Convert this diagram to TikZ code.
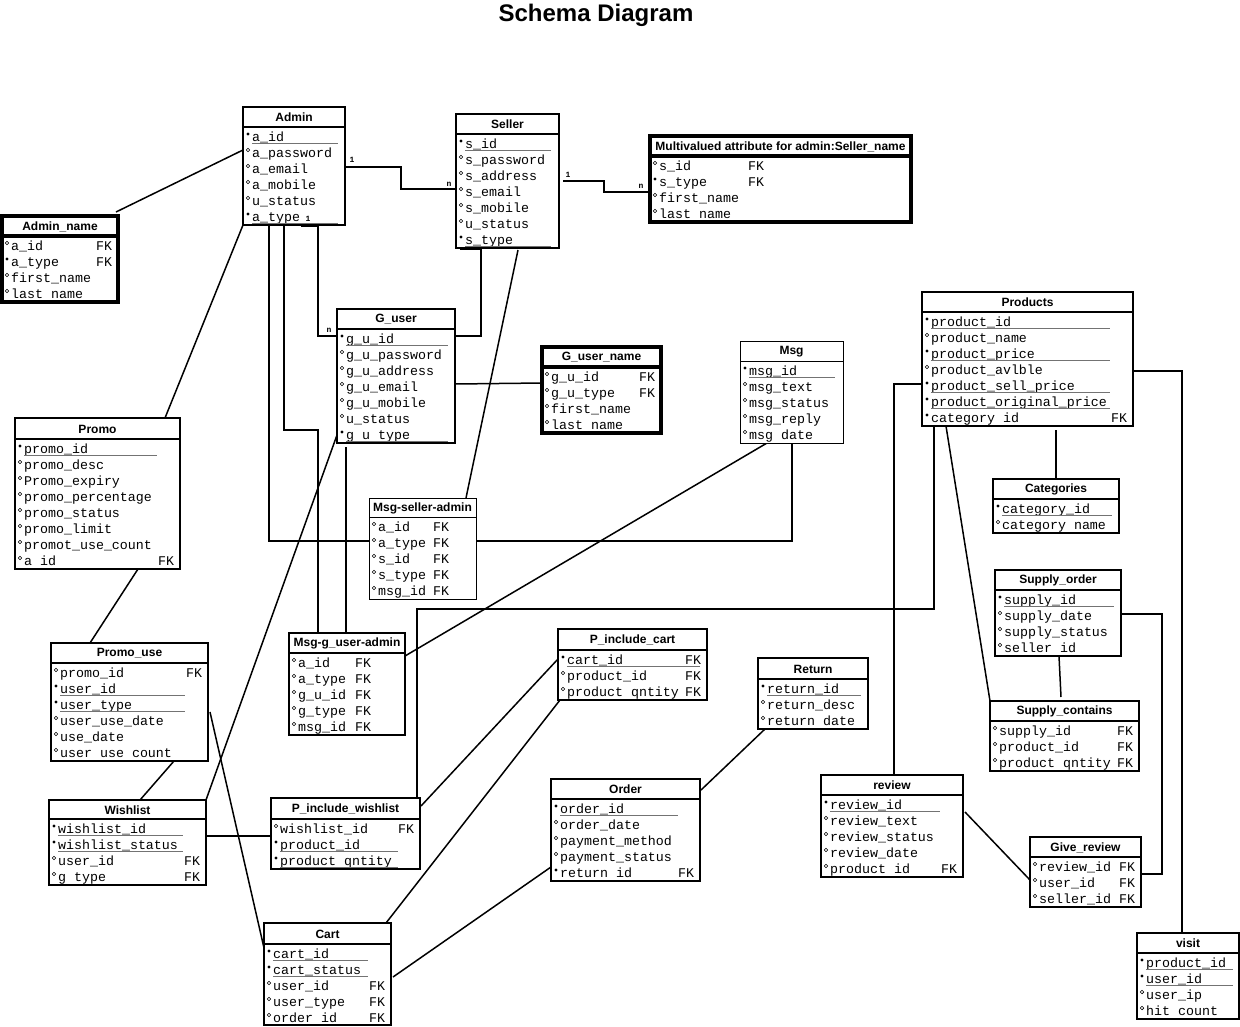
\documentclass[tikz,border=0pt]{standalone}
\usepackage{fontspec}
\setmainfont{Liberation Sans}
\newfontfamily\monof{Liberation Mono}
\usetikzlibrary{calc}
\pgfdeclarelayer{bg}
\pgfsetlayers{bg,main}
\tikzset{
  normal/.style={line width=1.7pt},
  thick/.style={line width=3.6pt},
  thin/.style={line width=0.9pt},
  ebox/.style={draw,fill=white,inner sep=0pt,outer sep=0pt,rectangle},
  etitle/.style={font=\bfseries\fontsize{12}{12}\selectfont,inner sep=0pt},
  rtext/.style={anchor=base west,inner sep=0pt,font=\monof\fontsize{13.3}{16}\selectfont},
  uline/.style={draw=black!55,line width=1pt},
  conn/.style={line width=1.5pt},
  lab/.style={font=\monof\bfseries\fontsize{8}{8}\selectfont,inner sep=0pt}
}
\newcommand\ent[8]{%
  \node[ebox,#8,minimum width={#4-#2},minimum height={#5-#3},anchor=north west] (#1) at (#2,#3) {};
  \draw[#8] (#2,{#3+#6}) -- (#4,{#3+#6});
  \node[etitle] (#1t) at ({(#2+#4)/2},{#3+#6/2+0.5}) {#7};
  \def\eN{#1}\def\eL{#2}\pgfmathsetmacro\eY{#3+#6+10}}
\newcommand\setfu[2]{\def\eF{#1}\def\eU{#2}}
\newcommand\rowat[1]{\pgfmathsetmacro\ry{\eY+16*(#1-1)}}
\newcommand\rk[2]{\rowat{#1}%
  \fill ({\eL+5},{\ry-3}) circle (1.7);
  \node[rtext] (\eN r#1) at ({\eL+9},{\ry+4}) {#2};
  \draw[uline] ({\eL+9},{\ry+6}) -- (\eU,{\ry+6});}
\newcommand\rkp[2]{\rowat{#1}%
  \fill ({\eL+5},{\ry-3}) circle (1.7);
  \node[rtext] (\eN r#1) at ({\eL+9},{\ry+4}) {#2};}
\newcommand\ro[2]{\rowat{#1}%
  \draw[line width=0.6pt] ({\eL+5},{\ry-3}) circle (1.8);
  \node[rtext] (\eN r#1) at ({\eL+9},{\ry+4}) {#2};}
\newcommand\fk[1]{\rowat{#1}%
  \node[rtext] (\eN f#1) at (\eF,{\ry+4}) {FK};}
\begin{document}
\begin{tikzpicture}[x=1pt,y=-1pt]
\useasboundingbox (0,0) rectangle (1240,1026);
\node[font=\bfseries\fontsize{24}{24}\selectfont,inner sep=0pt] (title) at (596,15) {Schema Diagram};

% ---------------- entities ----------------
\ent{admin}{243}{107}{345}{225}{20}{Admin}{normal}\setfu{0}{338}
\rk{1}{a\_id}\ro{2}{a\_password}\ro{3}{a\_email}\ro{4}{a\_mobile}\ro{5}{u\_status}\rk{6}{a\_type}

\ent{adminname}{2}{216}{118}{302}{20}{Admin\_name}{thick}\setfu{96}{0}
\ro{1}{a\_id}\fk{1}\rkp{2}{a\_type}\fk{2}\ro{3}{first\_name}\ro{4}{last name}

\ent{seller}{456}{114}{559}{248}{20}{Seller}{normal}\setfu{0}{551}
\rk{1}{s\_id}\ro{2}{s\_password}\ro{3}{s\_address}\ro{4}{s\_email}\ro{5}{s\_mobile}\ro{6}{u\_status}\rk{7}{s\_type}

\ent{multi}{650}{136}{911}{222}{20}{Multivalued attribute for admin:Seller\_name}{thick}\setfu{748}{0}
\ro{1}{s\_id}\fk{1}\rkp{2}{s\_type}\fk{2}\ro{3}{first\_name}\ro{4}{last name}

\ent{guser}{337}{309}{455}{443}{20}{G\_user}{normal}\setfu{0}{448}
\rk{1}{g\_u\_id}\ro{2}{g\_u\_password}\ro{3}{g\_u\_address}\ro{4}{g\_u\_email}\ro{5}{g\_u\_mobile}\ro{6}{u\_status}\rk{7}{g u type}

\ent{gusername}{542}{347}{661}{433}{20}{G\_user\_name}{thick}\setfu{639}{0}
\ro{1}{g\_u\_id}\fk{1}\ro{2}{g\_u\_type}\fk{2}\ro{3}{first\_name}\ro{4}{last name}

\ent{msg}{740}{341}{843}{443}{20}{Msg}{thin}\setfu{0}{835}
\rk{1}{msg\_id}\ro{2}{msg\_text}\ro{3}{msg\_status}\ro{4}{msg\_reply}\ro{5}{msg date}

\ent{products}{922}{292}{1133}{426}{20}{Products}{normal}\setfu{1111}{1110}
\rk{1}{product\_id}\ro{2}{product\_name}\rk{3}{product\_price}\ro{4}{product\_avlble}\rk{5}{product\_sell\_price}\rk{6}{product\_original\_price}\rkp{7}{category id}\fk{7}

\ent{promo}{15}{418}{180}{569}{21}{Promo}{normal}\setfu{158}{157}
\rk{1}{promo\_id}\ro{2}{promo\_desc}\ro{3}{Promo\_expiry}\ro{4}{promo\_percentage}\ro{5}{promo\_status}\ro{6}{promo\_limit}\ro{7}{promot\_use\_count}\ro{8}{a id}\fk{8}

\ent{msa}{369}{498}{476}{599}{19}{Msg-seller-admin}{thin}\setfu{433}{0}
\ro{1}{a\_id}\fk{1}\ro{2}{a\_type}\fk{2}\ro{3}{s\_id}\fk{3}\ro{4}{s\_type}\fk{4}\ro{5}{msg\_id}\fk{5}

\ent{categories}{993}{479}{1119}{533}{20}{Categories}{normal}\setfu{0}{1112}
\rk{1}{category\_id}\ro{2}{category name}

\ent{supplyorder}{995}{570}{1121}{656}{20}{Supply\_order}{normal}\setfu{0}{1114}
\rk{1}{supply\_id}\ro{2}{supply\_date}\ro{3}{supply\_status}\ro{4}{seller id}

\ent{promouse}{51}{643}{208}{761}{20}{Promo\_use}{normal}\setfu{186}{185}
\ro{1}{promo\_id}\fk{1}\rk{2}{user\_id}\rk{3}{user\_type}\ro{4}{user\_use\_date}\ro{5}{use\_date}\ro{6}{user use count}

\ent{mga}{289}{633}{405}{735}{20}{Msg-g\_user-admin}{normal}\setfu{355}{0}
\ro{1}{a\_id}\fk{1}\ro{2}{a\_type}\fk{2}\ro{3}{g\_u\_id}\fk{3}\ro{4}{g\_type}\fk{4}\ro{5}{msg\_id}\fk{5}

\ent{pcart}{558}{629}{707}{700}{21}{P\_include\_cart}{normal}\setfu{685}{700}
\rk{1}{cart\_id}\fk{1}\ro{2}{product\_id}\fk{2}\ro{3}{product qntity}\fk{3}

\ent{return}{758}{658}{868}{729}{21}{Return}{normal}\setfu{0}{861}
\rk{1}{return\_id}\ro{2}{return\_desc}\ro{3}{return date}

\ent{supplycontains}{990}{701}{1139}{771}{20}{Supply\_contains}{normal}\setfu{1117}{0}
\ro{1}{supply\_id}\fk{1}\ro{2}{product\_id}\fk{2}\ro{3}{product qntity}\fk{3}

\ent{wishlist}{49}{800}{206}{885}{19}{Wishlist}{normal}\setfu{184}{183}
\rk{1}{wishlist\_id}\rk{2}{wishlist\_status}\ro{3}{user\_id}\fk{3}\ro{4}{g type}\fk{4}

\ent{pwish}{271}{798}{420}{869}{21}{P\_include\_wishlist}{normal}\setfu{398}{398}
\ro{1}{wishlist\_id}\fk{1}\rk{2}{product\_id}\rk{3}{product qntity}

\ent{order}{551}{779}{700}{881}{20}{Order}{normal}\setfu{678}{678}
\rk{1}{order\_id}\ro{2}{order\_date}\ro{3}{payment\_method}\ro{4}{payment\_status}\rkp{5}{return id}\fk{5}

\ent{review}{821}{775}{963}{877}{20}{review}{normal}\setfu{941}{940}
\rk{1}{review\_id}\ro{2}{review\_text}\ro{3}{review\_status}\ro{4}{review\_date}\ro{5}{product id}\fk{5}

\ent{givereview}{1030}{837}{1141}{907}{20}{Give\_review}{normal}\setfu{1119}{0}
\ro{1}{review\_id}\fk{1}\ro{2}{user\_id}\fk{2}\ro{3}{seller\_id}\fk{3}

\ent{cart}{264}{923}{391}{1025}{21}{Cart}{normal}\setfu{369}{368}
\rk{1}{cart\_id}\rk{2}{cart\_status}\ro{3}{user\_id}\fk{3}\ro{4}{user\_type}\fk{4}\ro{5}{order id}\fk{5}

\ent{visit}{1137}{933}{1239}{1019}{20}{visit}{normal}\setfu{0}{1233}
\rk{1}{product\_id}\rk{2}{user\_id}\ro{3}{user\_ip}\ro{4}{hit count}

% ---------------- connectors ----------------
\begin{pgfonlayer}{bg}
\draw[conn] ($(adminname.north east)+(-2,-4)$) -- ($(admin.north west)+(0,43)$);
\draw[conn] ($(admin.north east)+(0,60)$) -- ++(56,0) |- ($(seller.north west)+(0,75)$);
\draw[conn] ($(seller.north east)+(4,67)$) -- ++(41,0) |- ($(multi.north west)+(0,56)$);
\draw[line width=3pt] ($(admin.south west)+(58,0)$) -- ($(admin.south west)+(76,0)$);
\draw[conn] ($(admin.south west)+(75,0)$) |- ($(guser.north west)+(0,27)$);
\draw[line width=3pt] ($(seller.south west)+(4,0)$) -- ($(seller.south west)+(26,0)$);
\draw[conn] ($(seller.south west)+(25,0)$) |- ($(guser.north east)+(0,27)$);
\draw[conn] ($(guser.north east)+(0,75)$) -- ($(gusername.north west)+(0,36)$);
\draw[conn] (admin.south west) -- ($(promo.north west)+(150,0)$);
\draw[conn] ($(admin.south west)+(26,0)$) |- ($(msa.north west)+(0,43)$);
\draw[conn] ($(msa.north east)+(0,43)$) -| ($(msg.south west)+(52,0)$);
\draw[conn] ($(admin.south west)+(41,0)$) -- ++(0,205) -| ($(mga.north west)+(29,0)$);
\draw[conn] ($(guser.south west)+(9,4)$) -- ($(mga.north west)+(57,0)$);
\draw[conn] ($(seller.south west)+(62,2)$) -- ($(msa.north east)+(-10,0)$);
\draw[conn] ($(guser.north west)+(0,126)$) -- (wishlist.north east);
\draw[conn] ($(msg.south west)+(27,0)$) -- ($(mga.north east)+(0,23)$);
\draw[conn] ($(promo.south west)+(123,0)$) -- ($(promouse.north west)+(39,0)$);
\draw[conn] ($(promouse.south west)+(123,0)$) -- ($(wishlist.north west)+(91,0)$);
\draw[conn] ($(promouse.north east)+(2,69)$) -- ($(cart.north west)+(0,25)$);
\draw[conn] ($(wishlist.north east)+(0,36)$) -- ($(pwish.north west)+(0,38)$);
\draw[conn] ($(pwish.north east)+(1,8)$) -- ($(pcart.north west)+(0,30)$);
\draw[conn] ($(pcart.south west)+(2,0)$) -- ($(cart.north east)+(-5,0)$);
\draw[conn] ($(order.north west)+(0,88)$) -- ($(cart.north east)+(2,54)$);
\draw[conn] ($(order.north east)+(1,11)$) -- ($(return.south west)+(7,0)$);
\draw[conn] ($(products.north west)+(0,92)$) -| ($(review.north west)+(73,0)$);
\draw[conn] ($(products.south west)+(12,0)$) -- ++(0,183) -| ($(pwish.north east)+(-3,0)$);
\draw[conn] ($(products.south west)+(24,0)$) -- (supplycontains.north west);
\draw[conn] ($(products.south west)+(134,4)$) -- ($(categories.north west)+(63,0)$);
\draw[conn] ($(products.north east)+(-2,79)$) -| ($(visit.north west)+(45,0)$);
\draw[conn] ($(supplyorder.north east)+(0,44)$) -- ++(41,0) |- ($(givereview.north east)+(0,37)$);
\draw[conn] ($(supplyorder.south west)+(64,0)$) -- ($(supplycontains.north west)+(71,-4)$);
\draw[conn] ($(review.north east)+(2,37)$) -- ($(givereview.north west)+(0,43)$);
\end{pgfonlayer}

% ---------------- cardinality labels ----------------
\node[lab] (l1) at (352,160) {1};
\node[lab] (l2) at (449,184) {n};
\node[lab] (l3) at (568,175) {1};
\node[lab] (l4) at (641,186) {n};
\node[lab] (l5) at (308,219) {1};
\node[lab] (l6) at (329,330) {n};
\end{tikzpicture}
\end{document}
